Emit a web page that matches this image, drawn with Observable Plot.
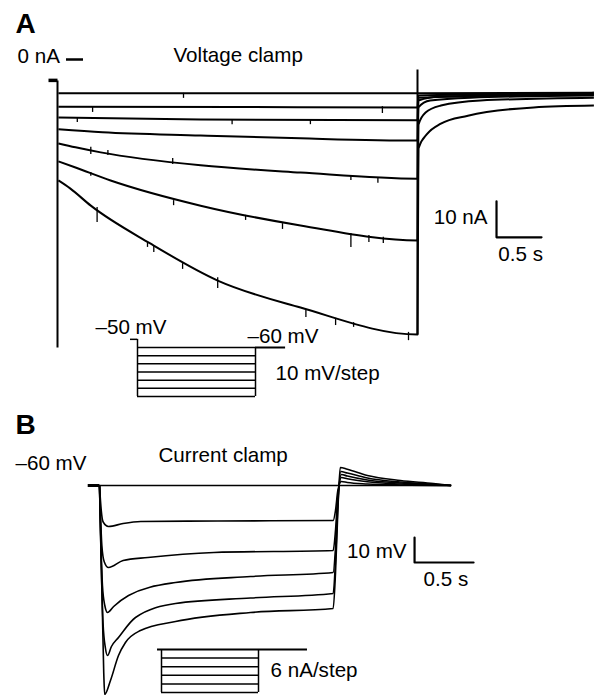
<!DOCTYPE html>
<html><head><meta charset="utf-8">
<script src="https://cdn.jsdelivr.net/npm/d3@7"></script>
<script src="https://cdn.jsdelivr.net/npm/@observablehq/plot@0.6"></script>
<style>
body{margin:0;background:#fff}
#fig{position:relative;width:597px;height:695px}
#fig svg{position:absolute;left:0;top:0;background:transparent}
</style>
</head><body><div id="fig"></div>
<script>
// ---------- Panel A : voltage clamp, current (nA) vs time (s) ----------
const vcHold = [[-0.1,-5.8],[0,-5.8]];
const vcOnTransient = [[0,-5.8],[0,-80]];
const vcOffTransient = [[4,-2.8],[4,-76.4]];
const vc1 = [[0.01,-9.4],[2,-9.4],[4,-9.4],[4.01,-9.4],[5.96,-9.2]];
const vc2 = [[0.01,-13.1],[2,-13.2],[4,-13.3],[4.01,-10],[5.96,-9.4]];
const vc3 = [[0.01,-16.1],[1.59,-16.7],[4,-16.9],[4.01,-10.6],[5.96,-9.7]];
const vc4 = [[0.01,-19.4],[0.5,-20.2],[1.59,-21.1],[2.7,-21.9],[4,-22.5],[4.01,-11.4],[4.26,-10.3],[5.96,-9.7]];
const vc5 = [[0.01,-23.3],[0.2,-24.4],[0.48,-25.8],[1.59,-29.4],[2.7,-31.4],[4,-33.1],[4.01,-13.3],[4.14,-11.4],[4.59,-10.6],[5.96,-10]];
const vc6 = [[0.01,-28.3],[0.2,-30],[0.59,-33.6],[1.59,-40.6],[2.7,-46.1],[4,-50.3],[4.01,-18.1],[4.09,-14.7],[4.26,-12.8],[4.7,-11.4],[5.96,-10.6]];
const vc7 = [[0.01,-33.6],[0.14,-35.8],[0.37,-40.6],[1.03,-51.1],[1.78,-61.4],[2.7,-68.9],[4,-76.4],[4.01,-24.7],[4.11,-20.6],[4.26,-17.8],[4.56,-15.6],[5.29,-13.3],[5.96,-12.8]];
// spontaneous downward events: [time s, from nA, to nA]
const vcEvents = [[1.4,-9.4,-10.8],[0.39,-13.1,-14.7],[0.22,-16.1,-17.5],[1.94,-16.9,-18.1],[0.37,-24.4,-26.4],
  [0.56,-25.3,-26.7],[1.28,-27.5,-29.2],[0.37,-31.4,-32.4],[3.61,-13.1,-15],[2.81,-16.9,-18.1],[3.26,-32.2,-33.6],
  [3.56,-32.8,-34.4],[0.44,-41.1,-45.3],[1.0,-50.8,-52.2],[1.07,-51.7,-53.6],[1.39,-56.7,-58.3],[1.78,-60.6,-63.6],
  [1.29,-39.2,-40.6],[2.09,-43.3,-44.7],[2.5,-45.6,-47.2],[3.26,-48.3,-52.2],[3.46,-48.9,-50.8],[3.62,-49.4,-51.1],
  [3.09,-71.9,-73.9],[3.29,-73.1,-74.4],[3.9,-75.8,-78.1],[2.76,-69.7,-71.7]];
const scaleA = {t: 4.878, i: -49.4, dt: 0.5, di: 10};
// Panel A protocol (mV)
const protoAHoldV = -50, protoALevels = [-60,-70,-80,-90,-100,-110,-120], protoAReturnV = -60, protoADur = 4;

// ---------- Panel B : current clamp, voltage (mV) vs time (s) ----------
const ccHold = [[-0.1,-60],[0,-60]];
const cc1 = [[0,-60],[1,-60],[2,-60],[2.98,-60]];
const cc2 = [[0,-60],[0.015,-70],[0.03,-74.5],[0.076,-76.4],[0.2,-75.2],[0.35,-74.4],[1,-74.2],[1.98,-74],[2.0,-70],[2.02,-62],[2.05,-58.4],[2.1,-58.8],[2.27,-59.4],[2.55,-59.8],[2.98,-60]];
const cc3 = [[0,-60],[0.02,-84],[0.04,-90.5],[0.076,-92.8],[0.2,-90],[0.41,-88.8],[0.97,-86.8],[1.98,-86],[2.0,-78],[2.02,-64],[2.05,-56.8],[2.1,-57.3],[2.27,-58.5],[2.55,-59.4],[2.98,-60]];
const cc4 = [[0,-60],[0.025,-100],[0.045,-108],[0.068,-110.8],[0.12,-108.4],[0.246,-104],[0.644,-98.8],[1.28,-96.4],[1.98,-94.8],[2.0,-85],[2.02,-66],[2.05,-55.6],[2.1,-56.2],[2.27,-57.8],[2.55,-59],[2.83,-59.6],[2.98,-60]];
const cc5 = [[0,-60],[0.03,-115],[0.05,-125],[0.068,-128],[0.1,-124.5],[0.161,-120.8],[0.305,-112.8],[0.644,-107.2],[1.28,-105],[1.98,-103.2],[2.0,-90],[2.02,-68],[2.045,-54.4],[2.1,-55],[2.27,-57],[2.55,-58.6],[2.83,-59.5],[2.98,-60]];
const cc6 = [[0,-60],[0.036,-135],[0.044,-143.6],[0.093,-138],[0.161,-128],[0.22,-122.8],[0.347,-118],[0.644,-114.4],[1.28,-110.8],[1.98,-109.2],[2.0,-95],[2.02,-70],[2.04,-52.8],[2.1,-53.5],[2.27,-56],[2.55,-58],[2.83,-59.2],[2.98,-60]];
const scaleB = {t: 2.67, v: -90.8, dt: 0.5, dv: 10};
// Panel B protocol (nA)
const protoBLevels = [0,-6,-12,-18,-24,-30], protoBDur = 1;

const FONT = '"Liberation Sans", Arial, Helvetica, sans-serif';
const txt = (x, y, s, o = {}) => Plot.text([s], {x: () => x, y: () => y, text: d => d, fontSize: 20.6, fontFamily: FONT,
  textAnchor: "start", lineAnchor: "bottom", fill: "#000", ...o});
const ln = (pts, w = 1.7) => Plot.line(pts, {x: d => d[0], y: d => d[1], stroke: "#000", strokeWidth: w,
  curve: "monotone-x", strokeLinejoin: "round", strokeLinecap: "butt"});
const base = (xd, xr, yd, yr, marks) => Plot.plot({width: 597, height: 695,
  x: {domain: xd, range: xr, axis: null}, y: {domain: yd, range: yr, axis: null},
  style: {background: "transparent", overflow: "visible"}, marks});

const fig = document.getElementById("fig");

// Panel A traces
fig.append(base([0,4],[57,417],[0,-10],[59,95],[
  txt(-0.467, 7.5, "A", {fontSize: 28, fontWeight: "bold"}),
  txt(-0.444, -1.1, "0 nA"),
  Plot.ruleY([0], {x1: () => 0.1, x2: () => 0.289, stroke: "#000", strokeWidth: 2.5}),
  txt(1.289, -0.56, "Voltage clamp"),
  ln(vcHold, 3.5),
  ln(vcOnTransient, 2), ln(vcOffTransient, 2),
  ...[vc1, vc2, vc3, vc4, vc5, vc6, vc7].map(d => ln(d, 2)),
  Plot.ruleX(vcEvents, {x: d => d[0], y1: d => d[1], y2: d => d[2], stroke: "#000", strokeWidth: 1.3}),
  Plot.line([[scaleA.t, scaleA.i + scaleA.di],[scaleA.t, scaleA.i],[scaleA.t + scaleA.dt, scaleA.i]],
    {x: d => d[0], y: d => d[1], stroke: "#000", strokeWidth: 2.2}),
  txt(scaleA.t - 0.1, scaleA.i + 3.8, "10 nA", {textAnchor: "end"}),
  txt(scaleA.t + 0.02, scaleA.i - 6.7, "0.5 s")
]));

// Panel A protocol inset
fig.append(base([0,4],[137,255],[-60,-120],[347,396],[
  Plot.ruleY(protoALevels, {y: d => d, x1: () => 0, x2: () => protoADur, stroke: "#000", strokeWidth: 1.5}),
  Plot.ruleX([0], {y1: () => protoAHoldV, y2: () => protoALevels[protoALevels.length-1], stroke: "#000", strokeWidth: 1.5}),
  Plot.ruleX([protoADur], {y1: () => protoAReturnV, y2: () => protoALevels[protoALevels.length-1], stroke: "#000", strokeWidth: 1.5}),
  Plot.ruleY([protoAHoldV], {x1: () => -0.237, x2: () => 0, stroke: "#000", strokeWidth: 1.5}),
  Plot.ruleY([protoAReturnV], {x1: () => protoADur, x2: () => 5.02, stroke: "#000", strokeWidth: 2}),
  txt(-1.424, -42.9, "\u201350 mV"),
  txt(3.729, -53.9, "\u201360 mV"),
  txt(4.678, -100.4, "10 mV/step")
]));

// Panel B traces
fig.append(base([0,2],[99,335],[-60,-70],[485,510],[
  txt(-0.712, -39.2, "B", {fontSize: 28, fontWeight: "bold"}),
  txt(-0.712, -53.6, "\u201360 mV"),
  txt(0.5, -50.4, "Current clamp"),
  ln(ccHold, 3),
  ...[cc1, cc2, cc3, cc4, cc5, cc6].map(d => ln(d, 1.6)),
  Plot.line([[scaleB.t, scaleB.v + scaleB.dv],[scaleB.t, scaleB.v],[scaleB.t + scaleB.dt, scaleB.v]],
    {x: d => d[0], y: d => d[1], stroke: "#000", strokeWidth: 2.2}),
  txt(scaleB.t - 0.068, scaleB.v + 2, "10 mV", {textAnchor: "end"}),
  txt(scaleB.t + 0.076, scaleB.v - 9.2, "0.5 s")
]));

// Panel B protocol inset
fig.append(base([0,1],[161,258],[0,-30],[649,692],[
  Plot.ruleY(protoBLevels.slice(1), {y: d => d, x1: () => 0, x2: () => protoBDur, stroke: "#000", strokeWidth: 1.5}),
  Plot.ruleY([protoBLevels[0]], {x1: () => -0.041, x2: () => 1.505, stroke: "#000", strokeWidth: 2}),
  Plot.ruleX([0, protoBDur], {y1: () => 0, y2: () => protoBLevels[protoBLevels.length-1], stroke: "#000", strokeWidth: 1.5}),
  txt(1.124, -19.5, "6 nA/step")
]));
</script></body></html>
